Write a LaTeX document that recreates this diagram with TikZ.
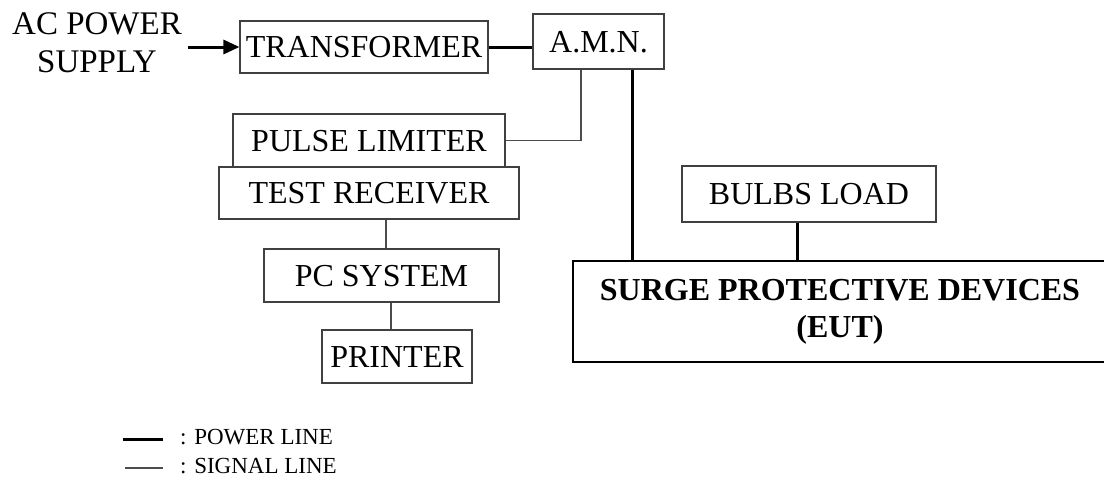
\documentclass[tikz,border=0pt]{standalone}
\usepackage{fontspec}
\setmainfont{Liberation Serif}
\usetikzlibrary{arrows.meta}
\begin{document}
\begin{tikzpicture}[x=1pt,y=-1pt,
  frame/.style={draw=black!75, line width=1.1pt, inner sep=0pt,
    font=\fontsize{32}{37}\selectfont},
  box/.style={frame, text height=21pt, text depth=0pt},
  pow/.style={line width=3pt},
  sig/.style={draw=black!70, line width=1.1pt},
  legend/.style={anchor=base west, inner sep=0pt, font=\fontsize{23}{27}\selectfont},
]
\fill[white] (0,0) rectangle (1104,493);
\useasboundingbox (0,0) rectangle (1104,493);

% source label
\node[inner sep=0pt, align=center, font=\fontsize{33}{38}\selectfont] (src) at (97,43) {AC POWER\\SUPPLY};

% blocks
\node[box, minimum width=248pt, minimum height=52pt] (tr)  at (364,47)      {TRANSFORMER};
\node[box, minimum width=131pt, minimum height=55pt] (amn) at (598.5,41.5)  {A.M.N.};
\node[box, minimum width=272pt, minimum height=53pt] (pl)  at (369,140.5)   {PULSE LIMITER};
\node[box, minimum width=300pt, minimum height=52pt] (tst) at (369,193)     {TEST RECEIVER};
\node[box, minimum width=235pt, minimum height=53pt] (pc)  at (381.5,275.5) {PC SYSTEM};
\node[box, minimum width=150pt, minimum height=53pt] (prn) at (397,356.5)   {PRINTER};
\node[box, minimum width=254pt, minimum height=56pt] (bl)  at (809,194)     {BULBS LOAD};
\node[frame, draw=black, align=center, minimum width=534pt, minimum height=101pt,
      font=\fontsize{32}{37}\selectfont\bfseries] (spd) at (840,311.5)
      {SURGE PROTECTIVE DEVICES\\(EUT)};

% power lines
\draw[pow, -{Triangle[length=16pt,width=14pt]}] ([xshift=6pt]src.east |- tr.west) -- (tr.west);
\draw[pow] (tr.east) -- (tr.east -| amn.west);
\draw[pow] ([xshift=33.5pt]amn.south) -- ([xshift=33.5pt]amn.south |- spd.north);
\draw[pow] ([xshift=-12pt]bl.south) -- ([xshift=-12pt]bl.south |- spd.north);

% signal lines
\draw[sig] (pl.east) -| ([xshift=-17.5pt]amn.south);
\draw[sig] ([xshift=17pt]tst.south) -- ([xshift=17pt]tst.south |- pc.north);
\draw[sig] ([xshift=9.5pt]pc.south) -- ([xshift=9.5pt]pc.south |- prn.north);

% legend
\coordinate (p1) at (123,439);
\coordinate (p2) at (163,439);
\draw[pow] (p1) -- (p2);
\node[legend] (plab) at (180,444) {: POWER LINE};
\coordinate (s1) at (125,468);
\coordinate (s2) at (163,468);
\draw[sig] (s1) -- (s2);
\node[legend] (slab) at (180,473) {: SIGNAL LINE};
\end{tikzpicture}
\end{document}
